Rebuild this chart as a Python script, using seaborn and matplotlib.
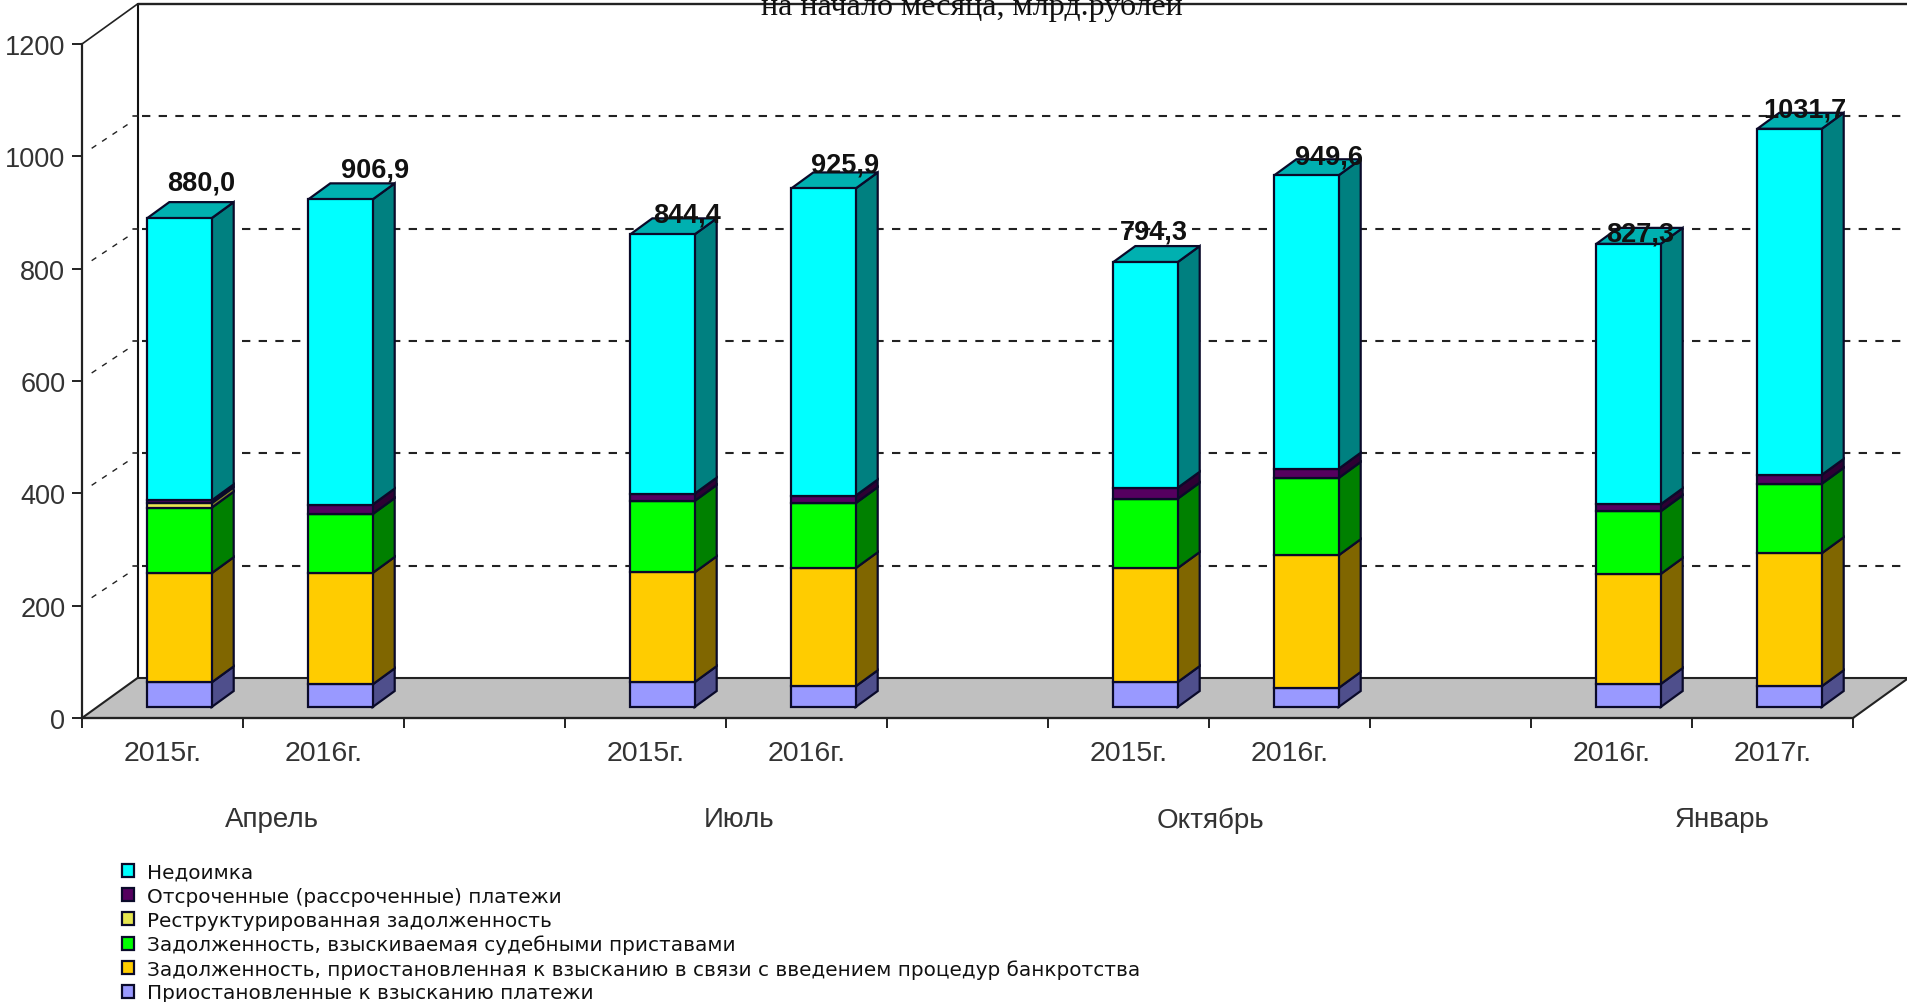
import matplotlib
matplotlib.use('Agg')
import matplotlib.pyplot as plt
import numpy as np
import pandas as pd
import seaborn as sns

# values, bln rub
slots = [0, 1, 3, 4, 6, 7, 9, 10]
year_labels = ['2015г.', '2016г.', '2015г.', '2016г.', '2015г.', '2016г.', '2016г.', '2017г.']
months = ['Апрель', 'Июль', 'Октябрь', 'Январь']
total_labels = ['880,0', '906,9', '844,4', '925,9', '794,3', '949,6', '827,3', '1031,7']

suspended = [44, 40.5, 44.5, 37, 44.5, 34, 41, 37]
bankruptcy = [195, 199, 196, 211, 203.5, 237, 196.5, 237.5]
bailiffs = [117, 105, 127.5, 116, 124, 138, 112, 124]
restructured = [8, 0, 0, 0, 0, 0, 0, 0]
deferred = [5, 17, 13, 13.5, 19.5, 16.5, 12.5, 16]
arrears = [504, 545, 463, 548.5, 403, 524, 465, 618]

# layout, pixels of the 1907x1003 figure
W, H = 1907, 1003
AX_LEFT, AX_RIGHT, AX_ZERO, AX_TOP = 82, 1853, 719, 45
PX_X = (AX_RIGHT - AX_LEFT) / 11
PX_Y = (AX_ZERO - AX_TOP) / 1200
WALL_DX, WALL_DY = 55.5 / PX_X, 40 / PX_Y
BAR_DX, BAR_DY = 17 / PX_X, 11 / PX_Y
SIDE_DX, SIDE_DY = 22 / PX_X, 16 / PX_Y
BAR_SCALE = 0.56 / PX_Y
BAR_WIDTH = 0.4
EDGE = '#0a0a2a'

series = [
    ('Приостановленные к взысканию платежи', suspended, '#9999ff', '#4f4f8c'),
    ('Задолженность, приостановленная к взысканию в связи с введением процедур банкротства',
     bankruptcy, '#ffcc00', '#806600'),
    ('Задолженность, взыскиваемая судебными приставами', bailiffs, '#00ff00', '#008000'),
    ('Реструктурированная задолженность', restructured, '#e6e650', '#80802a'),
    ('Отсроченные (рассроченные) платежи', deferred, '#55005f', '#2e0033'),
    ('Недоимка', arrears, '#00ffff', '#008080'),
]
TOP_COLOR = '#00b0b0'
# where the value label sits relative to the bar's top centre, px
label_dx = [22, 35, 24, 22, 8, 23, 12, 15]
label_dy = [36, 30, 20, 24, 31, 19, 10, 19]

sns.set_style('white')
plt.rcParams['font.family'] = ['Liberation Sans', 'DejaVu Sans']

fig = plt.figure(figsize=(W / 100, H / 100), dpi=100)
ax = fig.add_axes([AX_LEFT / W, 1 - AX_ZERO / H, (AX_RIGHT - AX_LEFT) / W, (AX_ZERO - AX_TOP) / H])
ax.patch.set_alpha(0)

x_pos = np.array(slots, dtype=float) + BAR_DX
base = np.full(len(slots), BAR_DY)
for name, values, color, side in series:
    heights = np.array(values) * BAR_SCALE
    sns.barplot(x=x_pos, y=heights, bottom=base, native_scale=True, width=BAR_WIDTH, color=color,
                saturation=1, edgecolor=EDGE, linewidth=1.6, errorbar=None, label=name,
                zorder=4, ax=ax, legend=False)
    for x, y0, h in zip(x_pos, base, heights):
        if h == 0:
            continue
        xr = x + BAR_WIDTH / 2
        ax.fill([xr, xr + SIDE_DX, xr + SIDE_DX, xr],
                [y0, y0 + SIDE_DY, y0 + h + SIDE_DY, y0 + h],
                facecolor=side, edgecolor=EDGE, linewidth=1.6, zorder=3, clip_on=False)
    base = base + heights

# top faces and value labels
for x, top, text, ldx, ldy in zip(x_pos, base, total_labels, label_dx, label_dy):
    xl, xr = x - BAR_WIDTH / 2, x + BAR_WIDTH / 2
    ax.fill([xl, xl + SIDE_DX, xr + SIDE_DX, xr], [top, top + SIDE_DY, top + SIDE_DY, top],
            facecolor=TOP_COLOR, edgecolor=EDGE, linewidth=1.6, zorder=3, clip_on=False)
    ax.annotate(text, (x, top), xytext=(ldx * 0.72, ldy * 0.72), textcoords='offset points',
                ha='center', va='center', fontsize=19.5, fontweight='bold', color='#111111',
                zorder=6, annotation_clip=False)

ax.set_xlim(-0.5, 10.5)
ax.set_ylim(0, 1200)
ax.set_xlabel('')
ax.set_ylabel('')

# back wall, floor and dashed grid
wall_x = -0.5 + WALL_DX
end_x = 10.5 + WALL_DX
ax.fill([-0.5, 10.5, end_x, wall_x], [0, 0, WALL_DY, WALL_DY], facecolor='#c0c0c0',
        edgecolor='#222222', linewidth=1.5, zorder=1.5, clip_on=False)
ax.plot([wall_x, wall_x], [WALL_DY, 1200 + WALL_DY], color='#111111', lw=1.5, zorder=1, clip_on=False)
ax.plot([wall_x, end_x], [1200 + WALL_DY] * 2, color='#222222', lw=1.7, zorder=1, clip_on=False)
ax.plot([-0.5, wall_x], [1200, 1200 + WALL_DY], color='#222222', lw=1.2, zorder=1, clip_on=False)
for tick in [200, 400, 600, 800, 1000]:
    ax.plot([wall_x + 0.03, end_x], [tick + WALL_DY] * 2, color='#222222', lw=1.5,
            ls=(0, (4, 4)), zorder=1, clip_on=False)
    ax.plot([-0.5 + 0.06, wall_x - 0.06], [tick + 0.2 * WALL_DY, tick + 0.8 * WALL_DY], color='#222222',
            lw=1.0, ls=(0, (4, 5)), zorder=1, clip_on=False)
    ax.plot([wall_x - 0.03, wall_x], [tick + WALL_DY] * 2, color='#222222', lw=1.2, zorder=1, clip_on=False)

sns.despine(ax=ax, top=True, right=True)
for side in ['left', 'bottom']:
    ax.spines[side].set_color('#222222')
    ax.spines[side].set_linewidth(1.6)
    ax.spines[side].set_zorder(2)
ax.grid(False)

ax.set_yticks(range(0, 1201, 200))
ax.set_xticks(np.arange(-0.5, 10.6, 1))
ax.set_xticklabels([])
ax.set_xticks(slots, year_labels, minor=True)
ax.tick_params(axis='y', direction='out', length=7, width=1.4, color='#222222', labelsize=19.5,
               labelcolor='#333333', pad=5, left=True)
ax.tick_params(axis='x', which='major', direction='out', length=7, width=1.4, color='#222222', bottom=True)
ax.tick_params(axis='x', which='minor', length=0, labelsize=20.5, labelcolor='#333333', pad=16)

for month, mx in zip(months, [0.68, 3.58, 6.51, 9.69]):
    ax.annotate(month, (mx, 0), xytext=(0, -101.5 * 0.72), textcoords='offset points', ha='center',
                va='center', fontsize=20, color='#333333', annotation_clip=False)

fig.text(972 / W, 1 - 15 / H, 'на начало месяца, млрд.рублей', family='Liberation Serif', fontsize=23,
         ha='center', va='baseline', color='#111111')

handles, labels = ax.get_legend_handles_labels()
seen = {}
for h, l in zip(handles, labels):
    seen.setdefault(l, h)
ordered = [s[0] for s in reversed(series)]
leg = fig.legend([seen[l] for l in ordered], ordered, loc='upper left', bbox_to_anchor=(122 / W, 1 - 864 / H),
                 bbox_transform=fig.transFigure, frameon=False, borderpad=0, borderaxespad=0, handlelength=0.62,
                 handleheight=0.62, handletextpad=0.65, labelspacing=0.24,
                 prop={'family': 'DejaVu Sans', 'size': 14.4})
for text in leg.get_texts():
    text.set_color('#111111')

fig.savefig('out.png', dpi=100, facecolor='white')
